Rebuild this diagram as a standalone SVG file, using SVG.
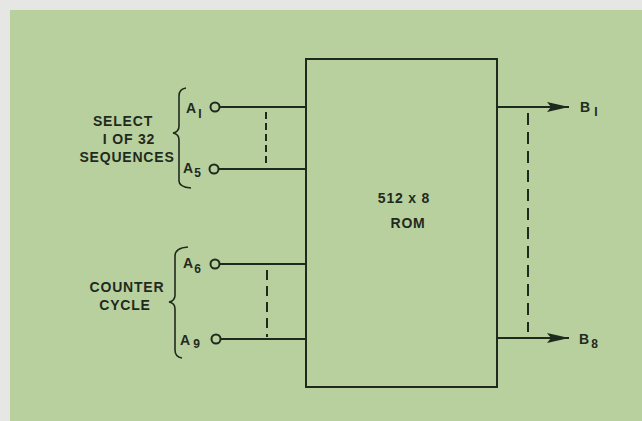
<svg xmlns="http://www.w3.org/2000/svg" width="642" height="421" viewBox="0 0 642 421">
  <defs>
    <style>
      .ln { stroke: #1f2a1f; stroke-width: 2; fill: none; }
      .dash { stroke: #1f2a1f; stroke-width: 2; fill: none; }
      .br { stroke: #1f2a1f; stroke-width: 1.6; fill: none; }
      .t { font-family: "Liberation Sans", Arial, sans-serif; fill: #1f2a1f; font-weight: bold; }
      .lbl { font-size: 14px; letter-spacing: 0.8px; }
      .pin { font-size: 14px; }
      .sub { font-size: 12px; }
      .term { fill: #b8d09e; stroke: #1f2a1f; stroke-width: 2; }
    </style>
    <marker id="arr" markerWidth="22" markerHeight="10" refX="22" refY="5" orient="auto" markerUnits="userSpaceOnUse">
      <path d="M0,0 L22,5 L0,10 L4,5 Z" fill="#1f2a1f"/>
    </marker>
  </defs>
  <rect x="0" y="0" width="642" height="421" fill="#e6e6e4"/>
  <rect x="10" y="10" width="632" height="411" fill="#b8d09e"/>

  <g id="rom">
    <rect x="306" y="59" width="191" height="328" class="ln"/>
    <text class="t lbl" x="404" y="203" text-anchor="middle">512 x 8</text>
    <text class="t lbl" x="408" y="228" text-anchor="middle">ROM</text>
  </g>

  <g id="select-group">
    <path class="br" d="M186,88 Q179,89 179,96 L179,126 Q179,132 173,133 Q179,134 179,140 L179,181 Q179,187 191,188"/>
    <text class="t lbl" x="123" y="126" text-anchor="middle">SELECT</text>
    <text class="t lbl" x="129" y="144" text-anchor="middle">I OF 32</text>
    <text class="t lbl" x="127" y="162" text-anchor="middle">SEQUENCES</text>
  </g>

  <g id="counter-group">
    <path class="br" d="M188,247 Q175,248 175,256 L175,295 Q175,301 169,302 Q175,303 175,309 L175,350 Q175,357 182,358"/>
    <text class="t lbl" x="127" y="292" text-anchor="middle">COUNTER</text>
    <text class="t lbl" x="125" y="310" text-anchor="middle">CYCLE</text>
  </g>

  <g id="pin-a1">
    <text class="t pin" x="186" y="113">A<tspan class="sub" dx="2" dy="5">I</tspan></text>
    <circle class="term" cx="215" cy="107" r="4.5"/>
  </g>
  <g id="pin-a5">
    <text class="t pin" x="183" y="173">A<tspan class="sub" dx="1" dy="4">5</tspan></text>
    <circle class="term" cx="214" cy="169" r="4.5"/>
  </g>
  <g id="pin-a6">
    <text class="t pin" x="183" y="268">A<tspan class="sub" dx="1" dy="5">6</tspan></text>
    <circle class="term" cx="215" cy="264" r="4.5"/>
  </g>
  <g id="pin-a9">
    <text class="t pin" x="180" y="345">A<tspan class="sub" dx="3" dy="3">9</tspan></text>
    <circle class="term" cx="216" cy="339" r="4.5"/>
  </g>
  <g id="out-b1">
    <text class="t pin" x="580" y="112">B<tspan class="sub" dx="4" dy="4">I</tspan></text>
  </g>
  <g id="out-b8">
    <text class="t pin" x="579" y="344">B<tspan class="sub" dx="2" dy="4">8</tspan></text>
  </g>

  <g id="connectors">
    <line class="ln" x1="219.5" y1="107" x2="306" y2="107"/>
    <line class="ln" x1="218.5" y1="169" x2="306" y2="169"/>
    <line class="ln" x1="219.5" y1="264" x2="306" y2="264"/>
    <line class="ln" x1="220.5" y1="339" x2="306" y2="339"/>
    <line class="dash" x1="266" y1="112" x2="266" y2="166" stroke-dasharray="7 4"/>
    <line class="dash" x1="267" y1="270" x2="267" y2="337" stroke-dasharray="10 6"/>
    <line class="ln" x1="497" y1="107" x2="569" y2="107" marker-end="url(#arr)"/>
    <line class="ln" x1="497" y1="338" x2="569" y2="338" marker-end="url(#arr)"/>
    <line class="dash" x1="528" y1="113" x2="528" y2="332" stroke-dasharray="12 7"/>
  </g>
</svg>
